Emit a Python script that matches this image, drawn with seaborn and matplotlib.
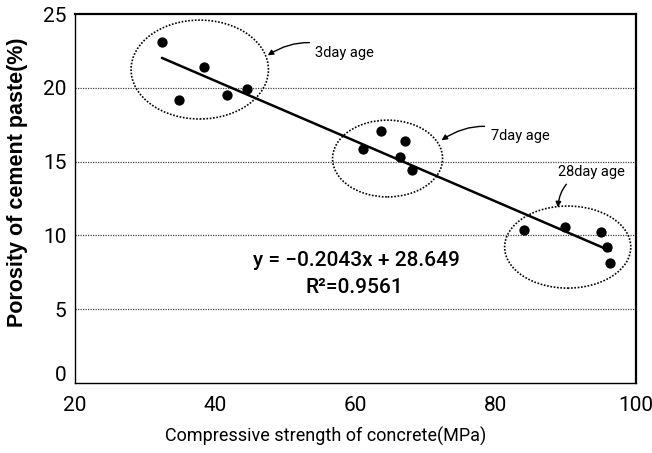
import numpy as np
import pandas as pd
import matplotlib
matplotlib.use("Agg")
import matplotlib.pyplot as plt
from matplotlib.patches import Ellipse
from matplotlib.transforms import ScaledTranslation
import seaborn as sns

# Compressive strength (MPa) and porosity (%) per curing age
strength_3d = [32.4, 34.9, 38.4, 41.7, 44.6]
porosity_3d = [23.1, 19.2, 21.4, 19.5, 19.9]
strength_7d = [61.1, 63.7, 67.1, 66.4, 68.1]
porosity_7d = [15.85, 17.1, 16.4, 15.3, 14.4]
strength_28d = [84.1, 89.9, 95.0, 95.9, 96.4]
porosity_28d = [10.4, 10.6, 10.2, 9.2, 8.1]

# Linear fit reported on the chart
slope = -0.2043
intercept = 28.649
r_squared = 0.9561

x_ticks = [20, 40, 60, 80, 100]
y_ticks = [0, 5, 10, 15, 20, 25]

df = pd.DataFrame({
    "strength": strength_3d + strength_7d + strength_28d,
    "porosity": porosity_3d + porosity_7d + porosity_28d,
})

sns.set_style("white")
plt.rcParams["font.family"] = ["Roboto", "DejaVu Sans"]
plt.rcParams["text.color"] = "black"
plt.rcParams["axes.labelcolor"] = "black"

fig = plt.figure(figsize=(6.52, 4.53), dpi=100)
ax = fig.add_axes([0.115, 0.1545, 0.86, 0.8145])

for yv in y_ticks[1:-1]:
    ax.axhline(yv, color="#444444", lw=0.9, ls=(0, (1, 1)), zorder=0)

xs = np.array([df["strength"].min(), df["strength"].max()])
fit = pd.DataFrame({"x": xs, "y": slope * xs + intercept})
sns.lineplot(data=fit, x="x", y="y", color="black", lw=1.8, ax=ax, zorder=2)
sns.scatterplot(data=df, x="strength", y="porosity", color="black", s=55,
                edgecolor="black", linewidth=0, ax=ax, zorder=3)

# Group outlines
groups = [
    ((37.8, 21.24), 19.6, 6.7),
    ((64.6, 15.21), 15.7, 5.2),
    ((90.3, 9.21), 18.0, 5.56),
]
for center, w, h in groups:
    ax.add_patch(Ellipse(center, w, h, fill=False, ec="black", lw=1.2,
                         ls=(0, (1, 1)), zorder=1))

arrow = dict(arrowstyle="-|>", color="black", lw=1.0, mutation_scale=8,
             shrinkA=2, shrinkB=0)
ax.annotate("3day age", xy=(47.5, 22.2), xytext=(54.3, 22.36),
            fontsize=10.5, va="center", ha="left",
            arrowprops=dict(**arrow, connectionstyle="arc3,rad=0.3"))
ax.annotate("7day age", xy=(72.3, 16.45), xytext=(79.3, 16.73),
            fontsize=10.5, va="center", ha="left",
            arrowprops=dict(**arrow, connectionstyle="arc3,rad=0.3"))
ax.annotate("28day age", xy=(88.9, 11.9), xytext=(88.9, 14.3),
            fontsize=10.5, va="center", ha="left",
            arrowprops=dict(**arrow, connectionstyle="arc3,rad=0.4"))

ax.text(60.1, 8.33, f"y = {slope:.4f}x + {intercept:.3f}".replace("-", "\u2212"),
        fontsize=15, fontweight="medium", ha="center", va="center")
ax.text(59.9, 6.44, f"R\u00b2={r_squared:.4f}", fontsize=15,
        fontweight="medium", ha="center", va="center")

ax.set_xlim(20, 100)
ax.set_ylim(0, 25)
ax.set_xticks(x_ticks)
ax.set_yticks(y_ticks)
ax.tick_params(axis="both", direction="in", length=4, width=0.8,
               labelsize=15, colors="black")
ax.tick_params(axis="x", pad=9)
ax.tick_params(axis="y", pad=6)

# lift the "0" label slightly above the corner
zero_label = ax.yaxis.get_major_ticks()[0].label1
zero_label.set_transform(zero_label.get_transform()
                         + ScaledTranslation(0, 7 / 72, fig.dpi_scale_trans))

ax.set_xlabel("Compressive strength of concrete(MPa)", fontsize=13)
ax.xaxis.set_label_coords(0.447, -0.146)
ax.xaxis.label.set_va("center")
ax.set_ylabel("Porosity of cement paste(%)", fontsize=15.5, fontweight="bold",
              family=["Liberation Sans", "DejaVu Sans"])
ax.yaxis.set_label_coords(-0.102, 0.545)
ax.yaxis.label.set_va("center")
for side, sp in ax.spines.items():
    sp.set_color("black")
    sp.set_linewidth(1.6 if side in ("top", "right") else 1.0)

fig.savefig("out.png", dpi=100)
